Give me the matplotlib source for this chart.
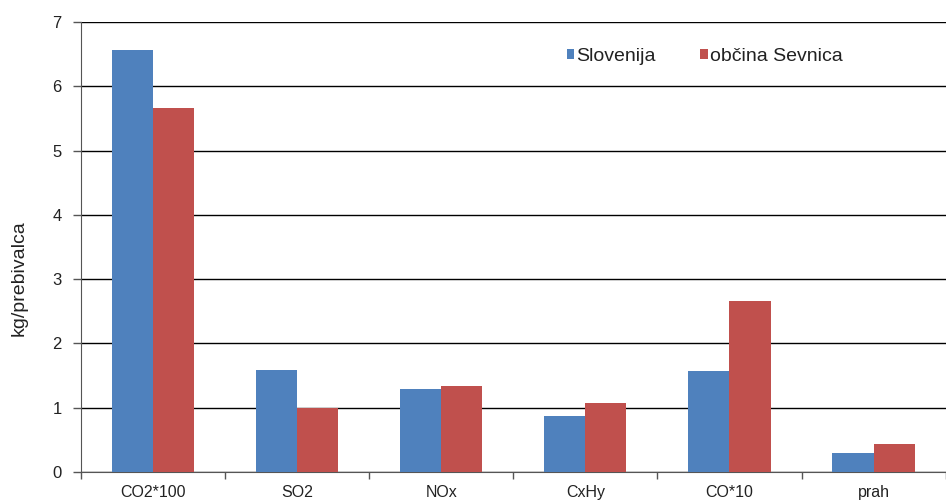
import matplotlib
matplotlib.use("Agg")
import matplotlib.pyplot as plt
import numpy as np

plt.rcParams['font.family'] = ['Liberation Sans', 'DejaVu Sans']

categories = ["CO2*100", "SO2", "NOx", "CxHy", "CO*10", "prah"]
slovenija = [6.56, 1.59, 1.29, 0.87, 1.57, 0.30]
sevnica = [5.66, 1.00, 1.34, 1.07, 2.66, 0.44]
series_names = ["Slovenija", "občina Sevnica"]
y_ticks = [0, 1, 2, 3, 4, 5, 6, 7]

blue = "#4F81BD"
red = "#C0504D"

fig = plt.figure(figsize=(9.46, 5.03), dpi=100)
ax = fig.add_axes([0.0856, 0.0616, 0.914, 0.8944])

x = np.arange(len(categories))
w = 0.285
ax.bar(x - w / 2, slovenija, width=w, color=blue, label=series_names[0], zorder=3)
ax.bar(x + w / 2, sevnica, width=w, color=red, label=series_names[1], zorder=3)

ax.set_xlim(-0.5, len(categories) - 0.5)
ax.set_ylim(0, 7)
ax.set_yticks(y_ticks)
ax.set_yticklabels([str(v) for v in y_ticks], fontsize=12, color="#222222")
ax.yaxis.grid(True, color="black", linewidth=1.0, zorder=0)
ax.tick_params(axis="y", length=6, width=1, color="#555555", pad=8)

# category labels at centres, tick marks between categories
ax.set_xticks(np.arange(len(categories) + 1) - 0.5)
ax.set_xticklabels([])
ax.set_xticks(x, minor=True)
ax.set_xticklabels(categories, minor=True, fontsize=11.5, color="#222222")
ax.tick_params(axis="x", which="major", length=5, width=1, color="#555555")
ax.tick_params(axis="x", which="minor", length=0, pad=9)

for s in ["top", "right"]:
    ax.spines[s].set_visible(False)
ax.spines["left"].set_color("#555555")
ax.spines["bottom"].set_color("#555555")

ax.set_ylabel("kg/prebivalca", fontsize=14, color="#222222")
ax.yaxis.set_label_coords(-0.062, 0.432)

leg = ax.legend(loc="center left", bbox_to_anchor=(0.562, 0.924), ncol=2, frameon=False,
                handlelength=0.38, handleheight=0.42, handletextpad=0.1,
                columnspacing=2.3, fontsize=14, borderaxespad=0, borderpad=0)
for t in leg.get_texts():
    t.set_color("#222222")

fig.savefig("out.png", dpi=100)
